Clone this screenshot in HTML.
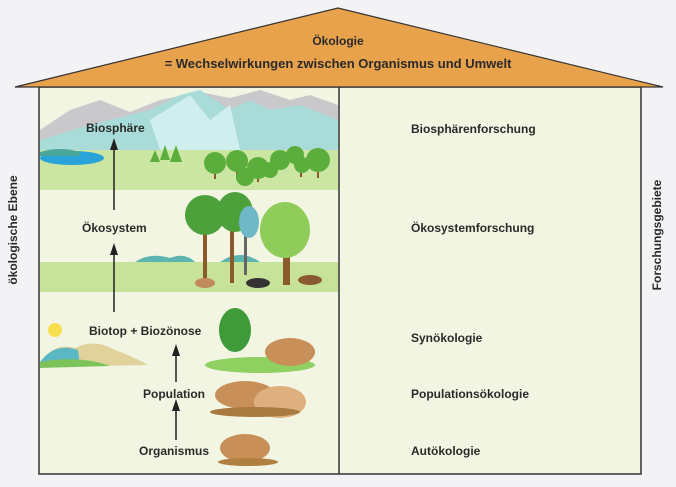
<!DOCTYPE html>
<html><head><meta charset="utf-8"><style>
html,body{margin:0;padding:0;background:#f3f3f5;}
svg{display:block;}
text{font-family:"Liberation Sans",sans-serif;font-weight:bold;fill:#2a2a2a;}
</style></head><body>
<svg width="676" height="487" viewBox="0 0 676 487" xmlns="http://www.w3.org/2000/svg">
<rect width="676" height="487" fill="#f3f3f5"/>
<rect x="39" y="87" width="602" height="387" fill="#f3f5e3" stroke="#333" stroke-width="1.5"/>
<!-- band 1 landscape -->
<polygon points="40,130 70,110 100,100 130,112 160,100 200,92 230,98 260,90 290,100 310,95 338,105 338,160 40,160" fill="#c9c9cc"/>
<polygon points="40,140 90,125 150,110 180,95 200,90 230,110 250,100 270,110 300,105 338,120 338,165 40,165" fill="#a9dcd8"/>
<polygon points="150,120 190,95 210,120 230,105 240,150 200,160 160,150" fill="#cfeeee"/>
<rect x="40" y="150" width="298" height="40" fill="#cbe5a2"/>
<ellipse cx="72" cy="158" rx="32" ry="7" fill="#2aa3d8"/>
<path d="M40,152 Q60,146 80,152 L80,156 L40,156Z" fill="#4aa59a"/>
<g fill="#8a5a2a"><rect x="214" y="165" width="2" height="14"/><rect x="236" y="163" width="2" height="16"/><rect x="257" y="170" width="2" height="12"/><rect x="317" y="162" width="2" height="16"/><rect x="300" y="165" width="2" height="12"/></g>
<g fill="#5cae3c">
<circle cx="215" cy="163" r="11"/><circle cx="237" cy="161" r="11"/><circle cx="258" cy="168" r="11"/><circle cx="280" cy="160" r="10"/><circle cx="295" cy="155" r="9"/><circle cx="318" cy="160" r="12"/><circle cx="245" cy="177" r="9"/><circle cx="302" cy="165" r="8"/><circle cx="270" cy="170" r="8"/>
<polygon points="160,160 165,145 170,160"/><polygon points="170,162 176,145 182,162"/><polygon points="150,162 155,150 160,162"/>
</g>
<!-- band 2 -->
<rect x="40" y="262" width="298" height="30" fill="#c7e39a"/>
<path d="M135,262 Q150,252 170,258 Q185,252 195,262Z" fill="#5db5b0"/>
<path d="M220,262 Q240,248 260,262Z" fill="#5db5b0"/>
<g fill="#8a5a2a"><rect x="203" y="228" width="4" height="55"/><rect x="230" y="228" width="4" height="55"/><rect x="283" y="240" width="7" height="45"/></g>
<rect x="244" y="225" width="3" height="50" fill="#666"/>
<g fill="#4ca13a"><ellipse cx="205" cy="215" rx="20" ry="20"/><ellipse cx="235" cy="212" rx="18" ry="20"/></g>
<ellipse cx="249" cy="222" rx="10" ry="16" fill="#6fb8c8"/>
<ellipse cx="285" cy="230" rx="25" ry="28" fill="#8fcc5a"/>
<ellipse cx="205" cy="283" rx="10" ry="5" fill="#c08a5a"/>
<ellipse cx="258" cy="283" rx="12" ry="5" fill="#333"/>
<ellipse cx="310" cy="280" rx="12" ry="5" fill="#8a5a30"/>
<!-- band 3 -->
<circle cx="55" cy="330" r="7" fill="#f7df50"/>
<path d="M40,362 Q55,342 75,348 Q95,338 115,350 Q130,355 148,365 L40,367Z" fill="#e0d29a"/>
<path d="M40,362 Q55,342 78,350 L80,365 L40,366Z" fill="#5ab8c4"/>
<path d="M40,362 Q80,355 110,366 L40,368Z" fill="#7cc45a"/>
<ellipse cx="260" cy="365" rx="55" ry="8" fill="#8fd060"/>
<g fill="#3f9a3a"><ellipse cx="235" cy="330" rx="16" ry="22"/></g>
<ellipse cx="290" cy="352" rx="25" ry="14" fill="#c89058"/>
<ellipse cx="245" cy="395" rx="30" ry="14" fill="#c89058"/>
<ellipse cx="280" cy="402" rx="26" ry="16" fill="#deb080"/>
<ellipse cx="255" cy="412" rx="45" ry="5" fill="#a87a40"/>
<ellipse cx="245" cy="448" rx="25" ry="14" fill="#c89058"/>
<ellipse cx="248" cy="462" rx="30" ry="4" fill="#b08040"/>
<line x1="339" y1="87" x2="339" y2="474" stroke="#333" stroke-width="1.5"/>
<polygon points="15,87 338,8 663,87" fill="#e9a24c" stroke="#333" stroke-width="1.2"/>
<text x="338" y="45" text-anchor="middle" font-size="12">Ökologie</text>
<text x="338" y="68" text-anchor="middle" font-size="13">= Wechselwirkungen zwischen Organismus und Umwelt</text>
<g stroke="#222" stroke-width="1.5">
<line x1="114" y1="210" x2="114" y2="150"/>
<line x1="114" y1="312" x2="114" y2="255"/>
<line x1="176" y1="382" x2="176" y2="355"/>
<line x1="176" y1="440" x2="176" y2="410"/>
</g>
<g fill="#222">
<polygon points="110,150 118,150 114,138"/>
<polygon points="110,255 118,255 114,243"/>
<polygon points="172,356 180,356 176,344"/>
<polygon points="172,411 180,411 176,399"/>
</g>
<g font-size="12">
<text x="86" y="132">Biosphäre</text>
<text x="82" y="232">Ökosystem</text>
<text x="89" y="335">Biotop + Biozönose</text>
<text x="143" y="398">Population</text>
<text x="139" y="455">Organismus</text>
<text x="411" y="133">Biosphärenforschung</text>
<text x="411" y="232">Ökosystemforschung</text>
<text x="411" y="342">Synökologie</text>
<text x="411" y="398">Populationsökologie</text>
<text x="411" y="455">Autökologie</text>
</g>
<text transform="translate(17,230) rotate(-90)" text-anchor="middle" font-size="12">ökologische Ebene</text>
<text transform="translate(661,235) rotate(-90)" text-anchor="middle" font-size="12">Forschungsgebiete</text>
</svg>
</body></html>
